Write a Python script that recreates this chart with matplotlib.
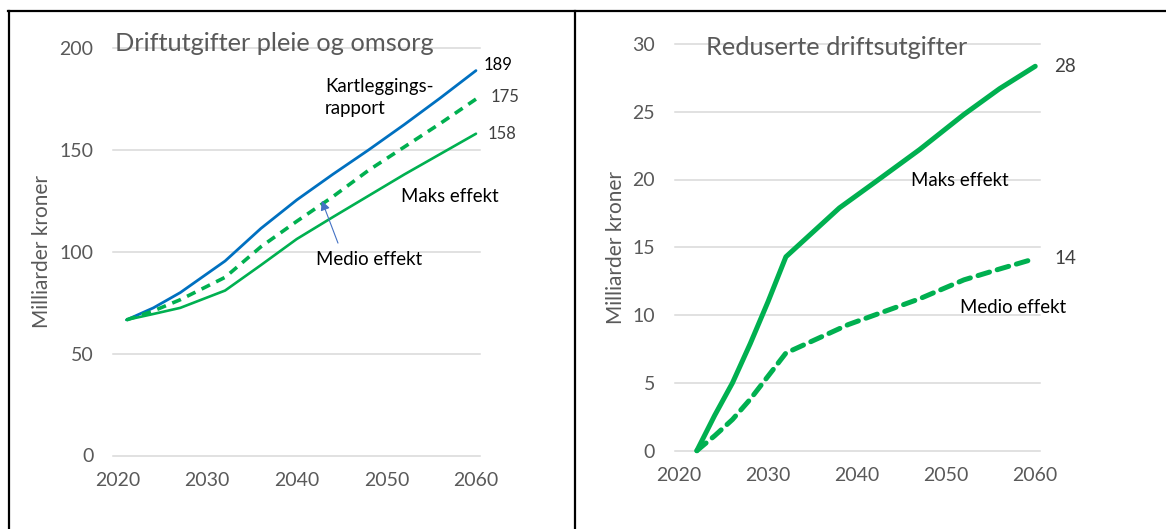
import matplotlib
matplotlib.use('Agg')
import matplotlib.pyplot as plt
from matplotlib.lines import Line2D

# Driftutgifter pleie og omsorg (milliarder kroner)
years_left = [2021, 2024, 2027, 2032, 2036, 2040, 2044, 2048, 2052, 2056, 2060]
kartlegging = [66.6, 72.5, 80.0, 95.5, 111.5, 125.5, 138.0, 150.0, 162.5, 175.5, 189]
medio_left = [66.6, 71.0, 76.5, 87.5, 102.5, 115.0, 127.0, 140.0, 151.5, 163.0, 175]
maks_left = [66.6, 69.5, 72.5, 81.0, 93.5, 106.3, 117.0, 127.5, 138.0, 148.0, 158]

# Reduserte driftsutgifter (milliarder kroner)
years_maks = [2022, 2024, 2026, 2028, 2030, 2032, 2035, 2038, 2042, 2047, 2052, 2056, 2060]
maks_right = [0, 2.6, 5.0, 7.9, 11.0, 14.3, 16.1, 17.9, 19.8, 22.2, 24.8, 26.7, 28.35]
years_medio = [2022, 2024, 2026, 2028, 2030, 2032, 2035, 2039, 2043, 2047, 2052, 2056, 2060]
medio_right = [0, 1.1, 2.3, 3.8, 5.5, 7.2, 8.1, 9.3, 10.25, 11.2, 12.6, 13.4, 14.17]

x_ticks = [2020, 2030, 2040, 2050, 2060]

GREEN = '#00B050'
BLUE = '#0070C0'
GREY = '#595959'
FONT = 'Lato'

W, H = 1166, 529
plt.rcParams['font.family'] = FONT

fig = plt.figure(figsize=(W / 100, H / 100), dpi=100)


def box(x0, y0, x1, y1):
    # pixel box (top-left origin) -> figure fraction rect
    return [x0 / W, 1 - y1 / H, (x1 - x0) / W, (y1 - y0) / H]


def style(ax, yticks):
    for s in ax.spines.values():
        s.set_visible(False)
    ax.set_xticks(x_ticks)
    ax.set_yticks(yticks)
    ax.tick_params(length=0, labelsize=14, labelcolor=GREY)
    ax.tick_params(axis='y', pad=14)
    ax.tick_params(axis='x', pad=12)
    ax.yaxis.grid(True, color='#D9D9D9', lw=1.1)
    ax.set_axisbelow(True)
    for gl in ax.get_ygridlines():
        gl.set_clip_on(False)


# left panel
ax1 = fig.add_axes(box(113, 48.2, 480, 455.5))
ax1.set_xlim(2019.49, 2060.45)
ax1.set_ylim(0, 200)
style(ax1, [0, 50, 100, 150, 200])
ax1.plot(years_left, kartlegging, color=BLUE, lw=2.0, solid_capstyle='round', clip_on=False)
ax1.plot(years_left, medio_left, color=GREEN, lw=2.6, ls=(0, (2.6, 1.9)), clip_on=False)
ax1.plot(years_left, maks_left, color=GREEN, lw=1.9, solid_capstyle='round', clip_on=False)

for val, dx, dy, col in [(kartlegging[-1], 5.5, 4, 'black'),
                         (medio_left[-1], 10.5, 1.5, '#404040'),
                         (maks_left[-1], 8.5, 0, '#404040')]:
    ax1.annotate(f'{val:.0f}', (years_left[-1], val), xytext=(dx, dy),
                 textcoords='offset points', ha='left', va='center',
                 fontsize=12, color=col)

ax1.text(2043.15, 176, 'Kartleggings-\nrapport', fontsize=13.4, ha='left',
         va='center', linespacing=1.35)
ax1.text(2051.6, 127, 'Maks effekt', fontsize=13.4, ha='left', va='center')
ax1.text(2042.1, 96.1, 'Medio effekt', fontsize=13.4, ha='left', va='center')
ax1.annotate('', xy=(2042.8, 125.1), xytext=(2044.6, 104.3),
             arrowprops=dict(arrowstyle='-|>', color='#4472C4', lw=0.8,
                             mutation_scale=14, shrinkA=0, shrinkB=0))

fig.text(114.7 / W, 1 - 43.9 / H, 'Driftutgifter pleie og omsorg',
         fontsize=18.3, color=GREY, ha='left', va='center')
fig.text(42.5 / W, 1 - 251 / H, 'Milliarder kroner', fontsize=15,
         color=GREY, rotation=90, ha='center', va='center')

# right panel
ax2 = fig.add_axes(box(674.5, 43.9, 1039.6, 450.7))
ax2.set_xlim(2019.49, 2060.49)
ax2.set_ylim(0, 30)
style(ax2, [0, 5, 10, 15, 20, 25, 30])
ax2.plot(years_maks, maks_right, color=GREEN, lw=3.6, solid_capstyle='round', clip_on=False)
ax2.plot(years_medio, medio_right, color=GREEN, lw=3.6, ls=(0, (2.4, 1.6)),
         dash_capstyle='round', clip_on=False)

for yrs, vals in [(years_maks, maks_right), (years_medio, medio_right)]:
    ax2.annotate(f'{vals[-1]:.0f}', (yrs[-1], vals[-1]), xytext=(13.5, 0),
                 textcoords='offset points', ha='left', va='center',
                 fontsize=13.5, color='#404040')

ax2.text(2046.0, 19.9, 'Maks effekt', fontsize=13.4, ha='left', va='center')
ax2.text(2051.6, 10.54, 'Medio effekt', fontsize=13.4, ha='left', va='center')

fig.text(706.3 / W, 1 - 47.2 / H, 'Reduserte driftsutgifter',
         fontsize=18.3, color=GREY, ha='left', va='center')
fig.text(615.5 / W, 1 - 248 / H, 'Milliarder kroner', fontsize=15,
         color=GREY, rotation=90, ha='center', va='center')

# frame lines around the two panels
lw_frame = 1.6
fig.add_artist(Line2D([8 / W, 1], [1 - 11 / H, 1 - 11 / H], color='black', lw=lw_frame))
fig.add_artist(Line2D([8.5 / W, 8.5 / W], [0, 1 - 11 / H], color='black', lw=lw_frame))
fig.add_artist(Line2D([575 / W, 575 / W], [0, 1 - 11 / H], color='black', lw=lw_frame))

fig.savefig('out.png', dpi=100)
